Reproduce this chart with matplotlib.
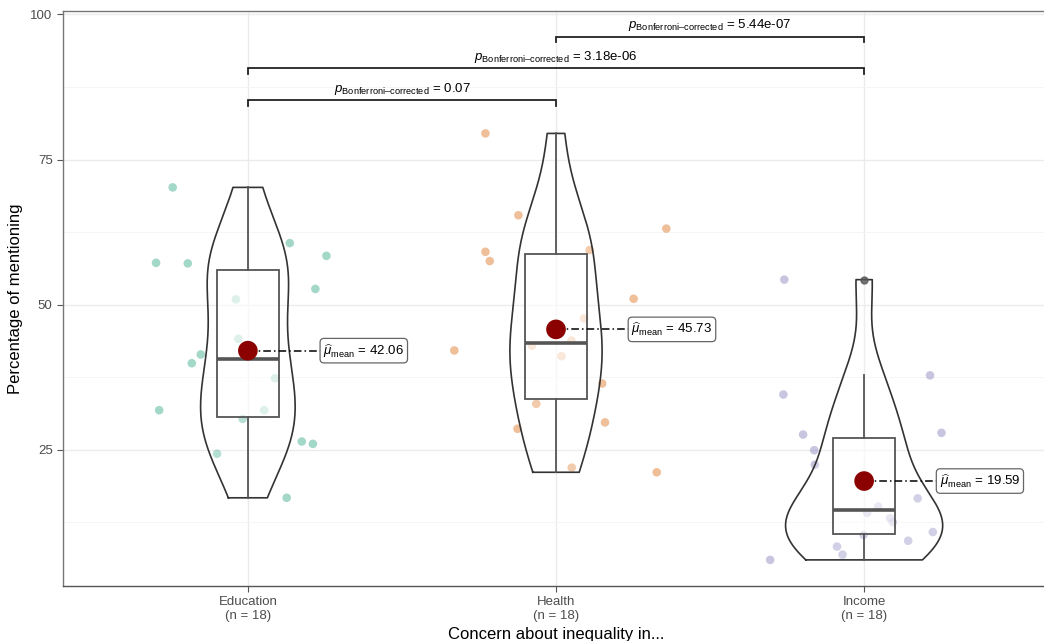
import numpy as np
import matplotlib
matplotlib.use("Agg")
import matplotlib.pyplot as plt

plt.rcParams['font.family'] = ['Liberation Sans', 'DejaVu Sans']
plt.rcParams['mathtext.fontset'] = 'custom'
plt.rcParams['mathtext.rm'] = 'Liberation Sans'
plt.rcParams['mathtext.it'] = 'Liberation Sans:italic'
plt.rcParams['mathtext.bf'] = 'Liberation Sans:bold'

# ---------------- data ----------------
categories = ["Education", "Health", "Income"]
n_labels = ["(n = 18)", "(n = 18)", "(n = 18)"]

education = [70.2, 60.6, 58.4, 57.2, 57.1, 52.7, 50.9, 44.1, 41.4, 39.9,
             37.3, 31.8, 31.8, 30.3, 26.4, 26.0, 24.3, 16.7]
health = [79.5, 63.1, 65.4, 59.4, 59.1, 57.5, 51.0, 47.6, 43.8, 42.9,
          42.1, 41.1, 36.4, 32.9, 29.7, 28.6, 21.9, 21.1]
income = [54.3, 37.8, 34.5, 27.9, 27.6, 24.9, 22.4, 16.6, 15.2, 14.1,
          13.2, 12.5, 10.8, 10.3, 9.3, 8.3, 6.9, 6.0]

# horizontal jitter offsets (category units)
jitter_education = [-0.244, 0.136, 0.255, -0.298, -0.195, 0.219, -0.039, -0.031, -0.153,
                    -0.182, 0.088, -0.288, 0.053, -0.017, 0.175, 0.211, -0.100, 0.126]
jitter_health = [-0.229, 0.358, -0.122, 0.109, -0.229, -0.215, 0.252, 0.091, 0.050,
                 -0.078, -0.330, 0.018, 0.150, -0.064, 0.159, -0.125, 0.051, 0.327]
jitter_income = [-0.259, 0.214, -0.262, 0.251, -0.198, -0.162, -0.160, 0.174, 0.046,
                 0.010, 0.084, 0.093, 0.223, -0.002, 0.143, -0.088, -0.070, -0.305]

comparisons = [(0, 1), (0, 2), (1, 2)]
p_values = ["0.07", "3.18e-06", "5.44e-07"]
bracket_y = [85.2, 90.7, 96.2]

colors = ["#1B9E77", "#D95F02", "#7570B3"]

groups = [np.array(education), np.array(health), np.array(income)]
jitters = [jitter_education, jitter_health, jitter_income]
positions = [1, 2, 3]

# ---------------- figure ----------------
fig = plt.figure(figsize=(10.44, 6.41), dpi=100)
ax = fig.add_axes([63 / 1044, 55 / 641, (1049 - 63) / 1044, (586 - 11) / 641])
ax.set_xlim(0.4, 3.6)
ax.set_ylim(1.5, 100.6)

# grid
ax.set_yticks([25, 50, 75, 100])
ax.set_yticks([12.5, 37.5, 62.5, 87.5], minor=True)
ax.set_xticks(positions)
ax.grid(True, which='major', color='#EBEBEB', lw=1.0, zorder=0)
ax.grid(True, which='minor', axis='y', color='#F4F4F4', lw=0.6, zorder=0)
ax.set_axisbelow(True)

# jittered points
for pos, vals, jit, col in zip(positions, groups, jitters, colors):
    ax.scatter(pos + np.array(jit), vals, s=38, color=col, alpha=0.4,
               edgecolors='none', zorder=2)


# violins (gaussian KDE, bw.nrd0, trimmed, scale = area)
def nrd0(x):
    x = np.asarray(x)
    sd = np.std(x, ddof=1)
    iqr = np.subtract(*np.percentile(x, [75, 25]))
    lo = min(sd, iqr / 1.34)
    return 0.9 * lo * len(x) ** (-0.2)


dens = []
for vals in groups:
    bw = nrd0(vals)
    grid = np.linspace(vals.min(), vals.max(), 300)
    d = np.exp(-0.5 * ((grid[:, None] - vals[None, :]) / bw) ** 2).sum(1)
    d /= (len(vals) * bw * np.sqrt(2 * np.pi))
    dens.append((grid, d))
dmax = max(d.max() for _, d in dens)
for pos, (grid, d) in zip(positions, dens):
    w = d / dmax * 0.255
    xs = np.concatenate([pos - w, (pos + w)[::-1], [pos - w[0]]])
    ys = np.concatenate([grid, grid[::-1], [grid[0]]])
    ax.fill(xs, ys, facecolor='white', alpha=0.2, zorder=3)
    ax.plot(xs, ys, color='#333333', lw=1.2, zorder=3)

# boxplots
bp = ax.boxplot(groups, positions=positions, widths=0.2, patch_artist=True,
                showcaps=False, manage_ticks=False, zorder=4,
                boxprops=dict(facecolor=(1, 1, 1, 0.55), edgecolor='#555555', lw=1.3),
                whiskerprops=dict(color='#555555', lw=1.3),
                medianprops=dict(color='#555555', lw=2.6),
                flierprops=dict(marker='o', markersize=5, markerfacecolor='#555555',
                                markeredgecolor='#555555', alpha=0.8))

# means and labels
for pos, vals in zip(positions, groups):
    m = vals.mean()
    ax.scatter([pos], [m], s=200, color='#8B0000', zorder=6, edgecolors='none')
    lx = pos + 0.245
    ax.plot([pos, lx], [m, m], color='black', lw=1.1, ls=(0, (5, 2, 1, 2)), zorder=5)
    ax.text(lx, m, r"$\widehat{\mu}_{\mathrm{mean}}$" + f" = {m:.2f}", fontsize=9.5,
            ha='left', va='center', zorder=7,
            bbox=dict(boxstyle='round,pad=0.25,rounding_size=0.3', facecolor='white',
                      edgecolor='#666666', lw=0.9))

# significance brackets
tip = 1.0
for (i, j), pv, yb in zip(comparisons, p_values, bracket_y):
    x1, x2 = positions[i], positions[j]
    ax.plot([x1, x1, x2, x2], [yb - tip, yb, yb, yb - tip], color='#222222', lw=1.3,
            zorder=5, solid_joinstyle='miter')
    ax.text((x1 + x2) / 2, yb + 0.6, r"$p_{\mathrm{Bonferroni{–}corrected}}$" + f" = {pv}",
            ha='center', va='bottom', fontsize=9.5, color='black', zorder=7)

# axes styling
ax.set_xticklabels([f"{c}\n{n}" for c, n in zip(categories, n_labels)],
                   fontsize=9.5, color='#4D4D4D', linespacing=1.15)
ax.tick_params(axis='y', labelsize=9.5, labelcolor='#4D4D4D', color='#555555', length=4)
ax.tick_params(axis='x', color='#555555', length=4)
ax.tick_params(which='minor', length=0)
for s in ['left', 'top', 'bottom', 'right']:
    ax.spines[s].set_color('#777777')
    ax.spines[s].set_linewidth(1.0)
ax.spines['bottom'].set_color('#555555')
ax.set_ylabel("Percentage of mentioning", fontsize=12, labelpad=5)
ax.set_xlabel("Concern about inequality in...", fontsize=12, labelpad=4)

fig.savefig("out.png", dpi=100)
